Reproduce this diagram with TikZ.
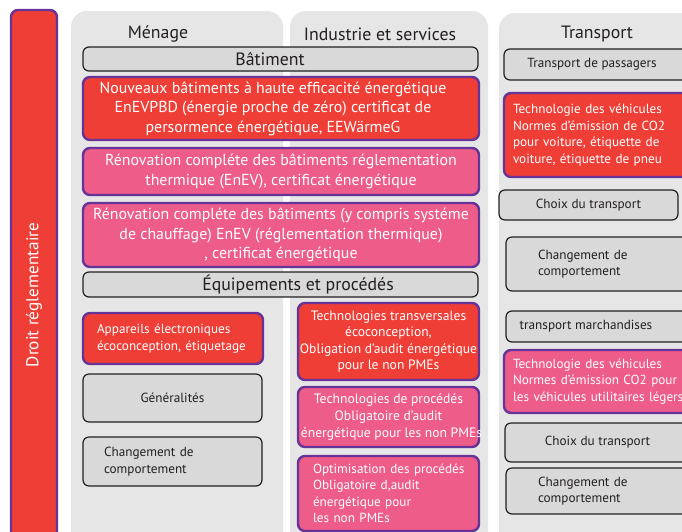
\documentclass[tikz,border=0pt]{standalone}
\usepackage{fontspec}
\setmainfont{PT Sans}
\definecolor{lawred}{RGB}{239,62,54}
\definecolor{lawpink}{RGB}{238,92,138}
\definecolor{lawpurple}{RGB}{102,51,153}
\definecolor{boxgray}{RGB}{217,217,217}
\definecolor{colgray}{RGB}{230,230,230}
\definecolor{inkgray}{RGB}{35,31,32}
\tikzset{
	gray box/.style={draw=inkgray, fill=boxgray, text=inkgray, line width=1.2pt, rounded corners=6pt, inner sep=0pt, align=center},
	red box/.style={draw=lawpurple, fill=lawred, text=white, line width=2.4pt, rounded corners=7pt, inner sep=0pt, align=center},
	pink box/.style={red box, fill=lawpink},
	column/.style={fill=colgray, rounded corners=16pt},
	head text/.style={text=inkgray, font=\fontsize{17.8}{21}\selectfont},
	big text/.style={font=\fontsize{15.9}{19.6}\selectfont},
	small text/.style={font=\fontsize{13.2}{16.5}\selectfont},
	mid text/.style={font=\fontsize{13.6}{16.6}\selectfont},
}

\begin{document}
\begin{tikzpicture}[x=1pt, y=-1pt]
  \useasboundingbox (0,0) rectangle (682,531);
  \clip (0,0) rectangle (682,531);

  % columns
  \fill[column] (71,11) rectangle (283,560);
  \fill[column] (290,11) rectangle (488,560);
  \fill[column] (499,13) rectangle (700,560);

  \node[red box, rotate=90, minimum width=570, minimum height=46, font=\fontsize{17.2}{20}\selectfont] (droit) at (34,295) {Droit réglementaire};

  \node[head text] (menage) at (158,34) {Ménage};
  \node[head text] (industrie) at (380,34) {Industrie et services};
  \node[head text] (transport) at (597,34) {Transport};

  % batiment
  \node[gray box, head text, minimum width=395, minimum height=24] (batiment) at (280.5,59) {\hspace*{-21pt}Bâtiment};
  \node[red box, big text, minimum width=396, minimum height=63] (nzeb) at (281,108.5)
    {\hspace*{-16pt}Nouveaux bâtiments à haute efficacité énergétique\\\hspace*{-16pt}EnEVPBD (énergie proche de zéro) certificat de\\\hspace*{-16pt}persormence énergétique, EEWärmeG};
  \node[pink box, big text, minimum width=396, minimum height=47] (reno1) at (281,171.5)
    {Rénovation compléte des bâtiments réglementation\\thermique (EnEV), certificat énergétique};
  \node[pink box, big text, minimum width=396, minimum height=64] (reno2) at (281,235)
    {Rénovation compléte des bâtiments (y compris systéme\\de chauffage) EnEV (réglementation thermique)\\, certificat énergétique};

  % equipements
  \node[gray box, head text, minimum width=395, minimum height=25] (equip) at (280.5,284.5) {\hspace*{35pt}Équipements et procédés};
  \node[red box, small text, minimum width=180, minimum height=51, text width=152, align=left] (appareils) at (173,338.5)
    {\mbox{Appareils électroniques}\\\mbox{écoconception, étiquetage}};
  \node[gray box, small text, minimum width=179, minimum height=48] (general) at (172.5,398) {Généralités};
  \node[gray box, small text, minimum width=179, minimum height=49, text width=137, align=left] (compM) at (172.5,461.5)
    {Changement de\\comportement};

  \node[red box, mid text, minimum width=181, minimum height=77] (transv) at (388.5,341.5)
    {Technologies transversales\\écoconception,\\Obligation d’audit énergétique\\pour le non PMEs};
  \node[pink box, mid text, minimum width=181, minimum height=60] (proc) at (388.5,417)
    {Technologies de procédés\\Obligatoire d’audit\\\makebox[170pt]{\hspace*{6pt}énergétique pour les non PMEs}};
  \node[pink box, small text, minimum width=181, minimum height=75, text width=151, align=left] (optim) at (388.5,493.5)
    {\mbox{Optimisation des procédés}\\\mbox{Obligatoire d,audit}\\\mbox{énergétique pour}\\\mbox{les non PMEs}};

  % transport
  \node[gray box, small text, minimum width=186, minimum height=31] (passagers) at (597,64.5) {\hspace*{-10pt}Transport de passagers};
  \node[red box, small text, minimum width=186, minimum height=84, text width=168, align=left] (vehic1) at (597,135)
    {\mbox{Technologie des véhicules}\\\mbox{Normes d’émission de CO2}\\\mbox{pour voiture, étiquette de}\\\mbox{voiture, étiquette de pneu}};
  \node[gray box, small text, minimum width=179, minimum height=30] (choix1) at (588.5,205) {Choix du transport};
  \node[gray box, small text, minimum width=184, minimum height=54, text width=120, align=left] (compT1) at (598,264)
    {Changement de\\comportement};
  \node[gray box, small text, minimum width=184, minimum height=31] (march) at (598,326.5) {\hspace*{-24pt}transport marchandises};
  \node[pink box, small text, minimum width=186, minimum height=63, text width=168, align=left] (vehic2) at (597,381.5)
    {\mbox{Technologie des véhicules}\\\mbox{Normes d’émission CO2 pour}\\\mbox{les véhicules utilitaires légers}};
  \node[gray box, small text, minimum width=185, minimum height=39] (choix2) at (597.5,442.5) {Choix du transport};
  \node[gray box, small text, minimum width=184, minimum height=46, text width=120, align=left] (compT2) at (598,491)
    {Changement de\\comportement};

\end{tikzpicture}
\end{document}
